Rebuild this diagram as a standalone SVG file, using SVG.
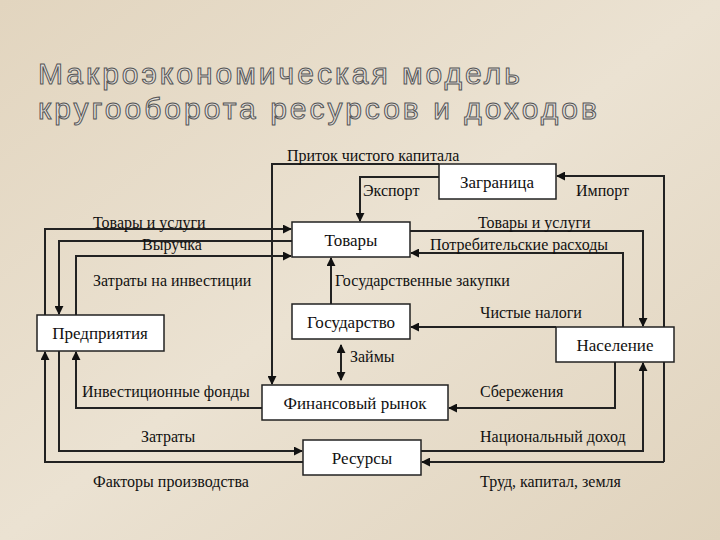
<svg xmlns="http://www.w3.org/2000/svg" width="720" height="540" viewBox="0 0 720 540">
<defs>
<linearGradient id="bg" x1="0" y1="0" x2="1" y2="1"><stop offset="0" stop-color="#e2d5bf"/><stop offset="0.5" stop-color="#ebe2d2"/><stop offset="1" stop-color="#e0d3bd"/></linearGradient>
<marker id="a" viewBox="0 0 10 10" refX="9" refY="5" markerWidth="9" markerHeight="9" markerUnits="userSpaceOnUse" orient="auto-start-reverse"><path d="M0,0L10,5L0,10z" fill="#111"/></marker>
</defs>
<style>
.b{fill:#fff;stroke:#222;stroke-width:1.5}
.t{font-family:"Liberation Serif",serif;font-size:17px;fill:#111}
.l{font-family:"Liberation Serif",serif;font-size:16px;fill:#111}
.c path{fill:none;stroke:#222;stroke-width:2;marker-end:url(#a)}
.h{font-family:"Liberation Sans",sans-serif;font-size:30px;fill:#e4e0dc;stroke:#555;stroke-width:1;letter-spacing:3px}
</style>
<rect width="720" height="540" fill="url(#bg)"/>
<text class="h" x="38" y="84">Макроэкономическая модель</text>
<text class="h" x="38" y="119">кругооборота ресурсов и доходов</text>
<g class="c">
<path d="M439,164H272V384"/>
<path d="M439,177H360V221"/>
<path d="M664,462V176H557"/>
<path d="M664,462H422"/>
<path d="M410,231H643V326"/>
<path d="M623,327V253H411"/>
<path d="M556,327H411"/>
<path d="M615,362V408H449"/>
<path d="M421,451H643V363"/>
<path d="M45,315V229H291"/>
<path d="M292,241H59V314"/>
<path d="M76,315V256H291"/>
<path d="M331,304V258"/>
<path d="M341,345V380" style="marker-start:url(#a)"/>
<path d="M262,408H76V352"/>
<path d="M59,351V451H302"/>
<path d="M303,462H45V352"/>
</g>
<g id="zagranica"><rect class="b" x="439" y="164" width="117" height="35"/><text class="t" x="497" y="188" text-anchor="middle">Заграница</text></g>
<g id="tovary"><rect class="b" x="292" y="222" width="118" height="35"/><text class="t" x="351" y="246" text-anchor="middle">Товары</text></g>
<g id="gosudarstvo"><rect class="b" x="292" y="304" width="118" height="35"/><text class="t" x="351" y="328" text-anchor="middle">Государство</text></g>
<g id="naselenie"><rect class="b" x="556" y="327" width="118" height="35"/><text class="t" x="615" y="351" text-anchor="middle">Население</text></g>
<g id="predpriyatiya"><rect class="b" x="37" y="315" width="127" height="36"/><text class="t" x="100" y="339" text-anchor="middle">Предприятия</text></g>
<g id="finrynok"><rect class="b" x="262" y="385" width="186" height="35"/><text class="t" x="355" y="409" text-anchor="middle">Финансовый рынок</text></g>
<g id="resursy"><rect class="b" x="303" y="440" width="118" height="35"/><text class="t" x="362" y="464" text-anchor="middle">Ресурсы</text></g>
<g id="labels">
<text class="l" x="287" y="161">Приток чистого капитала</text>
<text class="l" x="363" y="196">Экспорт</text>
<text class="l" x="576" y="196">Импорт</text>
<text class="l" x="93" y="228">Товары и услуги</text>
<text class="l" x="142" y="250">Выручка</text>
<text class="l" x="93" y="286">Затраты на инвестиции</text>
<text class="l" x="335" y="286">Государственные закупки</text>
<text class="l" x="478" y="228">Товары и услуги</text>
<text class="l" x="430" y="250">Потребительские расходы</text>
<text class="l" x="480" y="318">Чистые налоги</text>
<text class="l" x="350" y="362">Займы</text>
<text class="l" x="82" y="397">Инвестиционные фонды</text>
<text class="l" x="480" y="397">Сбережения</text>
<text class="l" x="141" y="442">Затраты</text>
<text class="l" x="480" y="442">Национальный доход</text>
<text class="l" x="93" y="487">Факторы производства</text>
<text class="l" x="480" y="487">Труд, капитал, земля</text>
</g>
</svg>
